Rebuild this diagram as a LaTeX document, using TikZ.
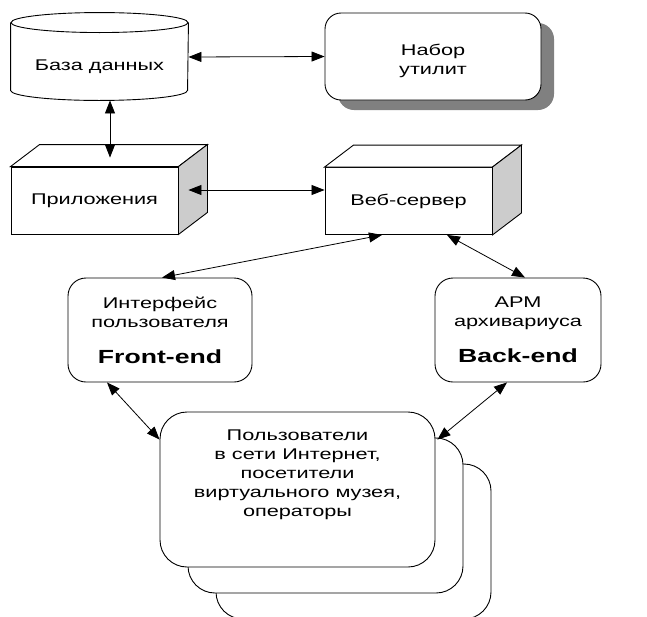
\documentclass[tikz,border=0pt]{standalone}
\usepackage{fontspec}
\setmainfont[FakeStretch=1.4]{Liberation Sans}
\usetikzlibrary{arrows.meta,shadows}

\newcommand{\tagfont}{\bfseries\fontsize{19pt}{19pt}\selectfont}

\begin{document}
\begin{tikzpicture}[x=1pt,y=-1pt,line width=0.9pt,
  font=\fontsize{15.5pt}{19pt}\selectfont,
  link/.style={{Triangle[length=13pt,width=10pt]}-{Triangle[length=13pt,width=10pt]},line width=0.8pt},
  rbox/.style={draw,fill=white,rounded corners=16pt,align=center,inner sep=0pt},
  block/.style={draw,fill=white,align=center,minimum width=167pt,minimum height=67pt,inner sep=0pt}]

\useasboundingbox (0,0) rectangle (647,616);
\clip (0,0) rectangle (647,616);

\node[minimum width=177pt,minimum height=67pt,inner sep=0pt] (db) at (99.5,66.5) {База данных};
\draw ([yshift=10pt]db.north west) -- ([yshift=10pt]db.south west)
  arc[start angle=180,end angle=360,x radius=88.5pt,y radius=10pt] -- ([yshift=10pt]db.north east);
\draw ([yshift=10pt]db.north) ellipse[x radius=88.5pt,y radius=10pt];

\node[rbox,minimum width=216pt,minimum height=87pt,
  drop shadow={shadow xshift=13pt,shadow yshift=-10pt,fill=black!50,opacity=1}]
  (tools) at (433,56.5) {\raisebox{-5pt}[\height][\depth]{\begin{tabular}{@{}c@{}}Набор\\утилит\end{tabular}}};

\node[block] (apps) at (94.5,200.5) {Приложения};
\node[block] (web) at (408.5,201) {Веб-сервер};
\foreach \n in {apps,web}{
  \draw[fill=white] (\n.north west) -- ++(29,-22) -- ([shift={(29,-22)}]\n.north east) -- (\n.north east) -- cycle;
  \draw[fill=black!20] (\n.north east) -- ++(29,-22) -- ([shift={(29,-22)}]\n.south east) -- (\n.south east) -- cycle;
}

\node[rbox,rounded corners=18pt,minimum width=184pt,minimum height=104pt]
  (iface) at (160,330) {Интерфейс\\пользователя\\[17pt]{\tagfont Front-end}};
\node[rbox,rounded corners=18pt,minimum width=166pt,minimum height=104pt]
  (arm) at (518,330) {АРМ\\архивариуса\\[17pt]{\tagfont Back-end}};

\node[rbox,rounded corners=27pt,minimum width=275pt,minimum height=155pt,
  copy shadow={shadow xshift=56pt,shadow yshift=-52pt,draw=black,fill=white,opacity=1},
  copy shadow={shadow xshift=28pt,shadow yshift=-26pt,draw=black,fill=white,opacity=1}]
  (users) at (297.5,489.5) {\raisebox{15pt}[\height][\depth]{\begin{tabular}{@{}c@{}}
    Пользователи\\в сети Интернет,\\посетители\\виртуального музея,\\операторы\end{tabular}}};

\draw[link] ([yshift=9.5pt]db.east) -- (tools.west);
\draw[link] ([xshift=10.5pt]db.south) -- ([shift={(15.5pt,9pt)}]apps.north);
\draw[link] ([shift={(10pt,10.5pt)}]apps.east) -- ([yshift=11pt]web.west);
\draw[link] ([xshift=-26.5pt]web.south) -- ([xshift=2pt]iface.north);
\draw[link] ([xshift=38.5pt]web.south) -- ([xshift=7pt]arm.north);
\draw[link] ([xshift=-53pt]iface.south) -- ([yshift=-28pt]users.north west);
\draw[link] ([xshift=-11pt]arm.south) -- ([shift={(2pt,-28pt)}]users.north east);

\end{tikzpicture}
\end{document}
